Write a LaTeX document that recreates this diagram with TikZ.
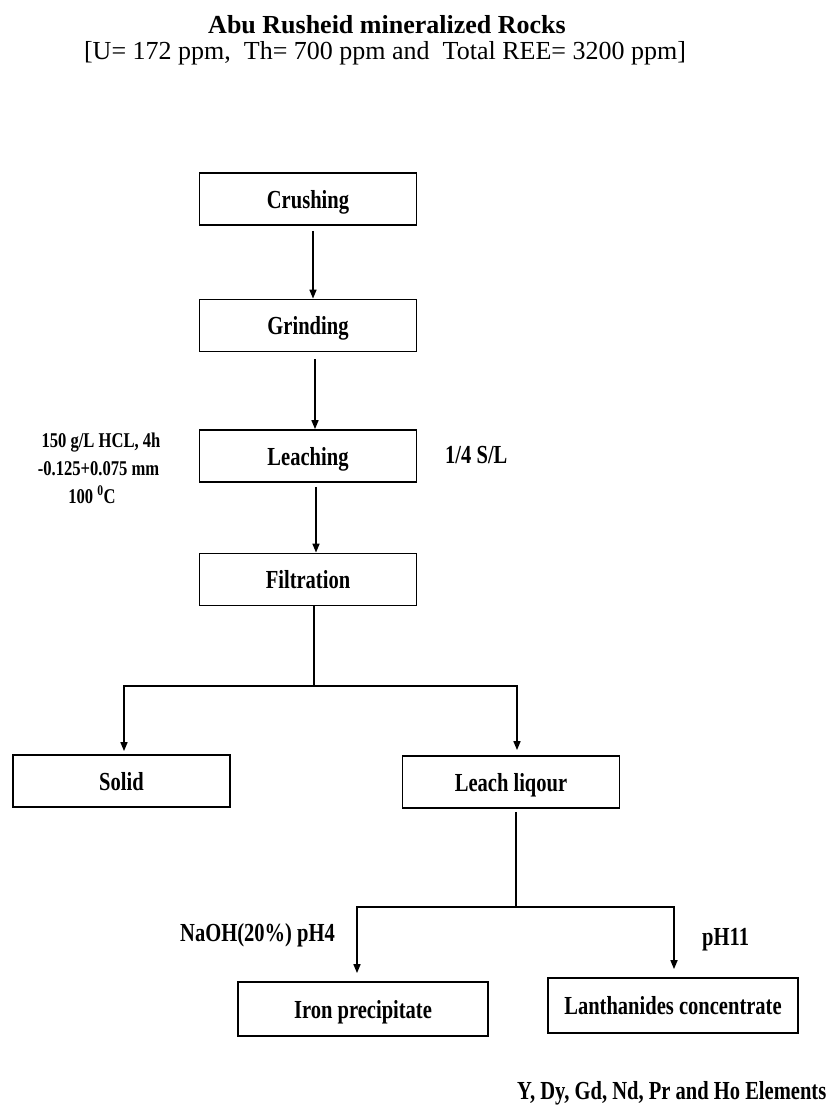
\documentclass[tikz,border=0pt]{standalone}
\usepackage{fontspec}
\setmainfont{Liberation Serif}
\newfontfamily\cond[FakeStretch=0.79]{Liberation Serif}
\usetikzlibrary{arrows.meta}
\begin{document}
\begin{tikzpicture}[x=1pt,y=-1pt,
  box/.style={draw,line width=1.8pt,minimum width=217pt,minimum height=52pt,inner sep=0pt,
    font=\cond\bfseries\fontsize{26}{30}\selectfont,text height=18pt,text depth=0pt},
  arr/.style={line width=1.6pt,-{Triangle[length=9pt,width=7pt]}},
  ln/.style={line width=1.6pt},
  lbl/.style={font=\cond\bfseries\fontsize{26}{30}\selectfont,inner sep=0pt,anchor=base west},
  small/.style={font=\cond\bfseries\fontsize{21}{28}\selectfont,inner sep=0pt,anchor=base}]
\useasboundingbox (0,0) rectangle (831,1110);
% header
\node[font=\bfseries\fontsize{26}{30}\selectfont,anchor=base,inner sep=0pt] (title) at (387,34) {Abu Rusheid mineralized Rocks};
\node[font=\fontsize{26}{30}\selectfont,anchor=base,inner sep=0pt] (sub) at (385,60) {[U= 172 ppm,\ \ Th= 700 ppm and\ \ Total REE= 3200 ppm]};
% boxes
\node[box] (crush) at (308,199) {Crushing};
\node[box] (grind) at (308,325.5) {Grinding};
\node[box] (leach) at (308,456) {Leaching};
\node[box] (filt) at (308,579.5) {Filtration};
\node[box] (solid) at (121.5,781) {Solid};
\node[box] (liq) at (511,782) {Leach liqour};
\node[box,minimum width=250pt,minimum height=54pt] (iron) at (363,1009) {Iron precipitate};
\node[box,minimum width=250pt,minimum height=55pt] (lan) at (673,1005.5) {Lanthanides concentrate};
% connectors
\draw[arr,shorten <=5pt] ([xshift=5pt]crush.south) -- ([xshift=5pt]grind.north);
\draw[arr,shorten <=7pt] ([xshift=7pt]grind.south) -- ([xshift=7pt]leach.north);
\draw[arr,shorten <=4pt] ([xshift=8pt]leach.south) -- ([xshift=8pt]filt.north);
\coordinate (j1) at (314,686);
\draw[ln] ([xshift=6pt]filt.south) -- (j1);
\draw[arr,shorten >=3pt] (j1) -| ([xshift=2.5pt]solid.north);
\draw[arr,shorten >=5pt] (j1) -| ([xshift=6pt]liq.north);
\coordinate (j2) at (516,907);
\draw[ln,shorten <=3pt] ([xshift=5pt]liq.south) -- (j2);
\draw[arr,shorten >=8pt] (j2) -| ([xshift=-6pt]iron.north);
\draw[arr,shorten >=8pt] (j2) -| ([xshift=1pt]lan.north);
% labels
\node[small] (c1) at (101,447) {150 g/L HCL, 4h};
\node[small] (c2) at (98.5,475) {-0.125+0.075 mm};
\node[small] (c3) at (92,503) {100 \textsuperscript{0}C};
\node[lbl] (sl) at (445,463) {1/4 S/L};
\node[lbl] (naoh) at (180,941) {NaOH(20\%) pH4};
\node[lbl] (ph) at (702,945) {pH11};
\node[lbl] (els) at (517,1099) {Y, Dy, Gd, Nd, Pr and Ho Elements};
\end{tikzpicture}
\end{document}
